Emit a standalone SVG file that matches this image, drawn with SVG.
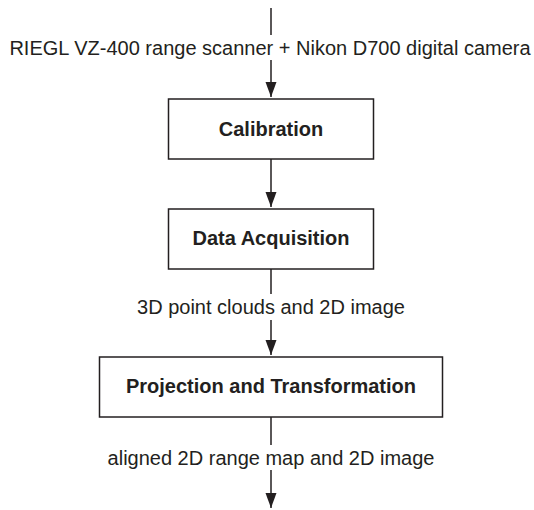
<svg xmlns="http://www.w3.org/2000/svg" width="534" height="510" viewBox="0 0 534 510">
<style>
.box{fill:#fff;stroke:#231f20;stroke-width:1.5}
.lbl{font-family:"Liberation Sans",Arial,sans-serif;font-size:20px;font-weight:bold;fill:#231f20;text-anchor:middle}
.txt{font-family:"Liberation Sans",Arial,sans-serif;font-size:20px;fill:#231f20;text-anchor:middle}
.ln{stroke:#231f20;stroke-width:1.5;fill:none}
</style>
<defs>
<marker id="ah" markerUnits="userSpaceOnUse" markerWidth="16" markerHeight="12" refX="15" refY="5.5" orient="auto">
<path d="M0,0 L15,5.5 L0,11 Z" fill="#231f20"/>
</marker>
</defs>
<g id="connectors">
<line class="ln" x1="271" y1="8" x2="271" y2="35"/>
<line class="ln" x1="271" y1="60" x2="271" y2="97" marker-end="url(#ah)"/>
<line class="ln" x1="271" y1="159" x2="271" y2="207" marker-end="url(#ah)"/>
<line class="ln" x1="271" y1="269" x2="271" y2="294"/>
<line class="ln" x1="271" y1="320" x2="271" y2="355" marker-end="url(#ah)"/>
<line class="ln" x1="271" y1="417" x2="271" y2="445"/>
<line class="ln" x1="271" y1="470" x2="271" y2="508" marker-end="url(#ah)"/>
<text class="txt" x="270" y="55">RIEGL VZ-400 range scanner + Nikon D700 digital camera</text>
<text class="txt" x="271" y="314">3D point clouds and 2D image</text>
<text class="txt" x="271" y="465">aligned 2D range map and 2D image</text>
</g>
<g id="calibration">
<rect class="box" x="168.5" y="99" width="205" height="60"/>
<text class="lbl" x="271" y="136">Calibration</text>
</g>
<g id="data-acquisition">
<rect class="box" x="168.5" y="209" width="205" height="60"/>
<text class="lbl" x="271" y="245">Data Acquisition</text>
</g>
<g id="projection">
<rect class="box" x="99.5" y="357" width="343" height="60"/>
<text class="lbl" x="271" y="393">Projection and Transformation</text>
</g>
</svg>
